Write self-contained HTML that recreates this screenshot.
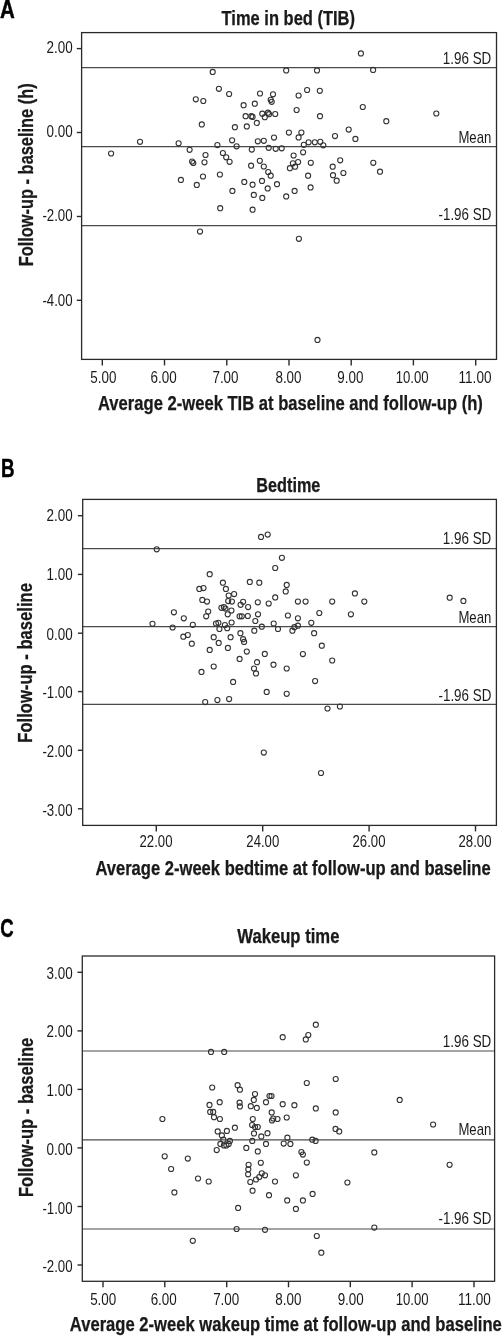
<!DOCTYPE html>
<html><head><meta charset="utf-8"><style>
html,body{margin:0;padding:0;background:#fff;overflow:hidden;width:502px;height:1336px;}
svg{display:block;font-family:"Liberation Sans", sans-serif;will-change:transform;}
</style></head><body>
<svg width="502" height="1336" viewBox="0 0 502 1336">
<rect width="502" height="1336" fill="#fff"/>
<line x1="81.6" y1="67.7" x2="496.5" y2="67.7" stroke="#4a4a4a" stroke-width="1.2"/>
<line x1="81.6" y1="146.6" x2="496.5" y2="146.6" stroke="#4a4a4a" stroke-width="1.2"/>
<line x1="81.6" y1="225.6" x2="496.5" y2="225.6" stroke="#4a4a4a" stroke-width="1.2"/>
<rect x="81.6" y="32.6" width="414.9" height="326.8" fill="none" stroke="#2a2a2a" stroke-width="1.3"/>
<line x1="76.8" y1="48.6" x2="81.6" y2="48.6" stroke="#2a2a2a" stroke-width="1.4"/>
<text x="72.6" y="53.1" font-size="17" text-anchor="end" textLength="26.1" lengthAdjust="spacingAndGlyphs" fill="#1a1a1a">2.00</text>
<line x1="76.8" y1="132.5" x2="81.6" y2="132.5" stroke="#2a2a2a" stroke-width="1.4"/>
<text x="72.6" y="137.1" font-size="17" text-anchor="end" textLength="26.1" lengthAdjust="spacingAndGlyphs" fill="#1a1a1a">0.00</text>
<line x1="76.8" y1="216.5" x2="81.6" y2="216.5" stroke="#2a2a2a" stroke-width="1.4"/>
<text x="72.6" y="221.1" font-size="17" text-anchor="end" textLength="30.2" lengthAdjust="spacingAndGlyphs" fill="#1a1a1a">-2.00</text>
<line x1="76.8" y1="300.3" x2="81.6" y2="300.3" stroke="#2a2a2a" stroke-width="1.4"/>
<text x="72.6" y="305.9" font-size="17" text-anchor="end" textLength="30.2" lengthAdjust="spacingAndGlyphs" fill="#1a1a1a">-4.00</text>
<line x1="102.3" y1="359.4" x2="102.3" y2="365.4" stroke="#2a2a2a" stroke-width="1.4"/>
<text x="103.3" y="382.6" font-size="17" text-anchor="middle" textLength="26.1" lengthAdjust="spacingAndGlyphs" fill="#1a1a1a">5.00</text>
<line x1="164.5" y1="359.4" x2="164.5" y2="365.4" stroke="#2a2a2a" stroke-width="1.4"/>
<text x="163.6" y="382.6" font-size="17" text-anchor="middle" textLength="26.1" lengthAdjust="spacingAndGlyphs" fill="#1a1a1a">6.00</text>
<line x1="226.8" y1="359.4" x2="226.8" y2="365.4" stroke="#2a2a2a" stroke-width="1.4"/>
<text x="225.5" y="382.6" font-size="17" text-anchor="middle" textLength="26.1" lengthAdjust="spacingAndGlyphs" fill="#1a1a1a">7.00</text>
<line x1="289.0" y1="359.4" x2="289.0" y2="365.4" stroke="#2a2a2a" stroke-width="1.4"/>
<text x="288.5" y="382.6" font-size="17" text-anchor="middle" textLength="26.1" lengthAdjust="spacingAndGlyphs" fill="#1a1a1a">8.00</text>
<line x1="351.2" y1="359.4" x2="351.2" y2="365.4" stroke="#2a2a2a" stroke-width="1.4"/>
<text x="350.3" y="382.6" font-size="17" text-anchor="middle" textLength="26.1" lengthAdjust="spacingAndGlyphs" fill="#1a1a1a">9.00</text>
<line x1="413.4" y1="359.4" x2="413.4" y2="365.4" stroke="#2a2a2a" stroke-width="1.4"/>
<text x="412.2" y="382.6" font-size="17" text-anchor="middle" textLength="32.9" lengthAdjust="spacingAndGlyphs" fill="#1a1a1a">10.00</text>
<line x1="475.7" y1="359.4" x2="475.7" y2="365.4" stroke="#2a2a2a" stroke-width="1.4"/>
<text x="475.0" y="382.6" font-size="17" text-anchor="middle" textLength="32.9" lengthAdjust="spacingAndGlyphs" fill="#1a1a1a">11.00</text>
<text x="491.3" y="64.1" font-size="17" text-anchor="end" textLength="48.5" lengthAdjust="spacingAndGlyphs" fill="#1a1a1a">1.96 SD</text>
<text x="491.3" y="142.6" font-size="17" text-anchor="end" textLength="32.9" lengthAdjust="spacingAndGlyphs" fill="#1a1a1a">Mean</text>
<text x="491.3" y="219.9" font-size="17" text-anchor="end" textLength="52.8" lengthAdjust="spacingAndGlyphs" fill="#1a1a1a">-1.96 SD</text>
<g fill="none" stroke="#333" stroke-width="1.1">
<circle cx="111.1" cy="153.5" r="2.55"/>
<circle cx="140.0" cy="141.8" r="2.55"/>
<circle cx="178.6" cy="143.3" r="2.55"/>
<circle cx="189.6" cy="149.8" r="2.55"/>
<circle cx="195.8" cy="99.3" r="2.55"/>
<circle cx="203.3" cy="101.0" r="2.55"/>
<circle cx="201.8" cy="124.4" r="2.55"/>
<circle cx="192.1" cy="161.5" r="2.55"/>
<circle cx="193.3" cy="163.0" r="2.55"/>
<circle cx="205.5" cy="155.0" r="2.55"/>
<circle cx="204.5" cy="162.3" r="2.55"/>
<circle cx="203.0" cy="176.5" r="2.55"/>
<circle cx="180.9" cy="179.9" r="2.55"/>
<circle cx="196.8" cy="184.9" r="2.55"/>
<circle cx="212.7" cy="71.9" r="2.55"/>
<circle cx="286.2" cy="70.4" r="2.55"/>
<circle cx="317.0" cy="70.4" r="2.55"/>
<circle cx="218.9" cy="88.8" r="2.55"/>
<circle cx="229.1" cy="94.0" r="2.55"/>
<circle cx="260.0" cy="93.5" r="2.55"/>
<circle cx="273.0" cy="94.3" r="2.55"/>
<circle cx="270.7" cy="99.8" r="2.55"/>
<circle cx="271.7" cy="101.8" r="2.55"/>
<circle cx="298.6" cy="95.5" r="2.55"/>
<circle cx="307.1" cy="90.0" r="2.55"/>
<circle cx="319.8" cy="90.8" r="2.55"/>
<circle cx="243.6" cy="105.2" r="2.55"/>
<circle cx="254.8" cy="103.7" r="2.55"/>
<circle cx="296.6" cy="110.0" r="2.55"/>
<circle cx="245.6" cy="116.2" r="2.55"/>
<circle cx="251.3" cy="116.2" r="2.55"/>
<circle cx="252.6" cy="116.9" r="2.55"/>
<circle cx="262.3" cy="113.7" r="2.55"/>
<circle cx="268.0" cy="112.7" r="2.55"/>
<circle cx="264.8" cy="117.2" r="2.55"/>
<circle cx="269.0" cy="114.2" r="2.55"/>
<circle cx="275.2" cy="114.0" r="2.55"/>
<circle cx="320.0" cy="116.2" r="2.55"/>
<circle cx="256.8" cy="122.9" r="2.55"/>
<circle cx="246.8" cy="126.4" r="2.55"/>
<circle cx="234.9" cy="127.2" r="2.55"/>
<circle cx="288.9" cy="132.6" r="2.55"/>
<circle cx="301.4" cy="132.6" r="2.55"/>
<circle cx="298.6" cy="137.4" r="2.55"/>
<circle cx="274.0" cy="137.6" r="2.55"/>
<circle cx="232.1" cy="140.3" r="2.55"/>
<circle cx="257.8" cy="141.3" r="2.55"/>
<circle cx="263.8" cy="140.8" r="2.55"/>
<circle cx="217.4" cy="145.1" r="2.55"/>
<circle cx="236.6" cy="146.3" r="2.55"/>
<circle cx="251.8" cy="149.6" r="2.55"/>
<circle cx="268.7" cy="147.8" r="2.55"/>
<circle cx="275.7" cy="148.8" r="2.55"/>
<circle cx="281.7" cy="148.3" r="2.55"/>
<circle cx="303.8" cy="144.8" r="2.55"/>
<circle cx="308.6" cy="142.3" r="2.55"/>
<circle cx="314.8" cy="142.3" r="2.55"/>
<circle cx="320.3" cy="141.8" r="2.55"/>
<circle cx="323.3" cy="145.3" r="2.55"/>
<circle cx="222.9" cy="153.0" r="2.55"/>
<circle cx="226.2" cy="157.3" r="2.55"/>
<circle cx="229.6" cy="161.8" r="2.55"/>
<circle cx="293.6" cy="155.5" r="2.55"/>
<circle cx="303.1" cy="152.3" r="2.55"/>
<circle cx="292.9" cy="163.3" r="2.55"/>
<circle cx="298.1" cy="162.0" r="2.55"/>
<circle cx="295.1" cy="166.7" r="2.55"/>
<circle cx="289.9" cy="168.2" r="2.55"/>
<circle cx="310.8" cy="162.8" r="2.55"/>
<circle cx="251.1" cy="165.7" r="2.55"/>
<circle cx="259.8" cy="160.8" r="2.55"/>
<circle cx="263.8" cy="166.5" r="2.55"/>
<circle cx="268.2" cy="172.0" r="2.55"/>
<circle cx="270.7" cy="175.7" r="2.55"/>
<circle cx="219.9" cy="174.5" r="2.55"/>
<circle cx="308.1" cy="175.7" r="2.55"/>
<circle cx="244.3" cy="181.9" r="2.55"/>
<circle cx="252.6" cy="184.7" r="2.55"/>
<circle cx="262.0" cy="180.9" r="2.55"/>
<circle cx="277.0" cy="184.2" r="2.55"/>
<circle cx="267.7" cy="188.4" r="2.55"/>
<circle cx="232.4" cy="190.9" r="2.55"/>
<circle cx="253.8" cy="194.9" r="2.55"/>
<circle cx="262.3" cy="197.9" r="2.55"/>
<circle cx="286.2" cy="196.4" r="2.55"/>
<circle cx="294.6" cy="190.9" r="2.55"/>
<circle cx="310.6" cy="187.4" r="2.55"/>
<circle cx="360.9" cy="53.4" r="2.55"/>
<circle cx="373.1" cy="69.9" r="2.55"/>
<circle cx="362.8" cy="107.0" r="2.55"/>
<circle cx="436.3" cy="113.5" r="2.55"/>
<circle cx="386.3" cy="121.2" r="2.55"/>
<circle cx="348.7" cy="129.6" r="2.55"/>
<circle cx="335.0" cy="136.1" r="2.55"/>
<circle cx="355.4" cy="138.9" r="2.55"/>
<circle cx="340.2" cy="160.3" r="2.55"/>
<circle cx="332.7" cy="166.7" r="2.55"/>
<circle cx="343.4" cy="173.0" r="2.55"/>
<circle cx="333.0" cy="175.2" r="2.55"/>
<circle cx="336.7" cy="180.7" r="2.55"/>
<circle cx="373.3" cy="162.8" r="2.55"/>
<circle cx="380.0" cy="171.7" r="2.55"/>
<circle cx="200.0" cy="231.6" r="2.55"/>
<circle cx="220.2" cy="208.2" r="2.55"/>
<circle cx="252.6" cy="209.7" r="2.55"/>
<circle cx="298.9" cy="238.8" r="2.55"/>
<circle cx="317.5" cy="339.9" r="2.55"/>
</g>
<text x="-0.1" y="17.7" font-size="25" font-weight="bold" textLength="14.8" lengthAdjust="spacingAndGlyphs" fill="#000" stroke="#000" stroke-width="0.45">A</text>
<text x="221.6" y="24.8" font-size="19.8" font-weight="bold" stroke="#111" stroke-width="0.25" textLength="133.4" lengthAdjust="spacingAndGlyphs" fill="#1a1a1a">Time in bed (TIB)</text>
<text x="98.0" y="409.9" font-size="19.6" font-weight="bold" stroke="#111" stroke-width="0.25" textLength="384.9" lengthAdjust="spacingAndGlyphs" fill="#1a1a1a">Average 2-week TIB at baseline and follow-up (h)</text>
<text x="32.6" y="266.3" font-size="19.8" font-weight="bold" stroke="#111" stroke-width="0.25" textLength="183.0" lengthAdjust="spacingAndGlyphs" transform="rotate(-90 32.6 266.3)" fill="#1a1a1a">Follow-up - baseline (h)</text>
<line x1="82.7" y1="548.7" x2="496.4" y2="548.7" stroke="#4a4a4a" stroke-width="1.2"/>
<line x1="82.7" y1="626.7" x2="496.4" y2="626.7" stroke="#4a4a4a" stroke-width="1.2"/>
<line x1="82.7" y1="704.4" x2="496.4" y2="704.4" stroke="#4a4a4a" stroke-width="1.2"/>
<rect x="82.7" y="499.4" width="413.7" height="326.0" fill="none" stroke="#2a2a2a" stroke-width="1.3"/>
<line x1="77.9" y1="515.7" x2="82.7" y2="515.7" stroke="#2a2a2a" stroke-width="1.4"/>
<text x="72.6" y="521.4" font-size="17" text-anchor="end" textLength="26.1" lengthAdjust="spacingAndGlyphs" fill="#1a1a1a">2.00</text>
<line x1="77.9" y1="574.4" x2="82.7" y2="574.4" stroke="#2a2a2a" stroke-width="1.4"/>
<text x="72.6" y="580.3" font-size="17" text-anchor="end" textLength="26.1" lengthAdjust="spacingAndGlyphs" fill="#1a1a1a">1.00</text>
<line x1="77.9" y1="633.2" x2="82.7" y2="633.2" stroke="#2a2a2a" stroke-width="1.4"/>
<text x="72.6" y="639.6" font-size="17" text-anchor="end" textLength="26.1" lengthAdjust="spacingAndGlyphs" fill="#1a1a1a">0.00</text>
<line x1="77.9" y1="691.6" x2="82.7" y2="691.6" stroke="#2a2a2a" stroke-width="1.4"/>
<text x="72.6" y="698.3" font-size="17" text-anchor="end" textLength="30.2" lengthAdjust="spacingAndGlyphs" fill="#1a1a1a">-1.00</text>
<line x1="77.9" y1="750.3" x2="82.7" y2="750.3" stroke="#2a2a2a" stroke-width="1.4"/>
<text x="72.6" y="757.1" font-size="17" text-anchor="end" textLength="30.2" lengthAdjust="spacingAndGlyphs" fill="#1a1a1a">-2.00</text>
<line x1="77.9" y1="808.8" x2="82.7" y2="808.8" stroke="#2a2a2a" stroke-width="1.4"/>
<text x="72.6" y="815.8" font-size="17" text-anchor="end" textLength="30.2" lengthAdjust="spacingAndGlyphs" fill="#1a1a1a">-3.00</text>
<line x1="156.3" y1="825.4" x2="156.3" y2="831.4" stroke="#2a2a2a" stroke-width="1.4"/>
<text x="156.0" y="846.7" font-size="17" text-anchor="middle" textLength="32.9" lengthAdjust="spacingAndGlyphs" fill="#1a1a1a">22.00</text>
<line x1="262.7" y1="825.4" x2="262.7" y2="831.4" stroke="#2a2a2a" stroke-width="1.4"/>
<text x="262.8" y="846.7" font-size="17" text-anchor="middle" textLength="32.9" lengthAdjust="spacingAndGlyphs" fill="#1a1a1a">24.00</text>
<line x1="369.1" y1="825.4" x2="369.1" y2="831.4" stroke="#2a2a2a" stroke-width="1.4"/>
<text x="369.0" y="846.7" font-size="17" text-anchor="middle" textLength="32.9" lengthAdjust="spacingAndGlyphs" fill="#1a1a1a">26.00</text>
<line x1="475.5" y1="825.4" x2="475.5" y2="831.4" stroke="#2a2a2a" stroke-width="1.4"/>
<text x="475.0" y="846.7" font-size="17" text-anchor="middle" textLength="32.9" lengthAdjust="spacingAndGlyphs" fill="#1a1a1a">28.00</text>
<text x="491.3" y="543.9" font-size="17" text-anchor="end" textLength="48.5" lengthAdjust="spacingAndGlyphs" fill="#1a1a1a">1.96 SD</text>
<text x="491.3" y="622.5" font-size="17" text-anchor="end" textLength="32.9" lengthAdjust="spacingAndGlyphs" fill="#1a1a1a">Mean</text>
<text x="491.3" y="700.5" font-size="17" text-anchor="end" textLength="52.8" lengthAdjust="spacingAndGlyphs" fill="#1a1a1a">-1.96 SD</text>
<g fill="none" stroke="#333" stroke-width="1.1">
<circle cx="156.7" cy="549.3" r="2.55"/>
<circle cx="199.3" cy="588.9" r="2.55"/>
<circle cx="203.5" cy="588.1" r="2.55"/>
<circle cx="202.3" cy="599.9" r="2.55"/>
<circle cx="173.9" cy="612.3" r="2.55"/>
<circle cx="183.8" cy="618.3" r="2.55"/>
<circle cx="152.5" cy="623.8" r="2.55"/>
<circle cx="172.6" cy="627.5" r="2.55"/>
<circle cx="192.8" cy="624.8" r="2.55"/>
<circle cx="183.3" cy="636.7" r="2.55"/>
<circle cx="187.8" cy="635.0" r="2.55"/>
<circle cx="191.8" cy="643.7" r="2.55"/>
<circle cx="261.0" cy="536.9" r="2.55"/>
<circle cx="267.7" cy="534.6" r="2.55"/>
<circle cx="281.9" cy="557.8" r="2.55"/>
<circle cx="275.2" cy="568.0" r="2.55"/>
<circle cx="209.7" cy="574.2" r="2.55"/>
<circle cx="222.9" cy="582.7" r="2.55"/>
<circle cx="249.8" cy="581.9" r="2.55"/>
<circle cx="259.3" cy="582.7" r="2.55"/>
<circle cx="286.7" cy="584.9" r="2.55"/>
<circle cx="285.7" cy="591.4" r="2.55"/>
<circle cx="225.9" cy="588.9" r="2.55"/>
<circle cx="228.7" cy="595.6" r="2.55"/>
<circle cx="234.1" cy="594.1" r="2.55"/>
<circle cx="207.0" cy="601.6" r="2.55"/>
<circle cx="228.2" cy="601.1" r="2.55"/>
<circle cx="231.9" cy="601.6" r="2.55"/>
<circle cx="243.1" cy="601.8" r="2.55"/>
<circle cx="240.6" cy="604.8" r="2.55"/>
<circle cx="248.1" cy="607.1" r="2.55"/>
<circle cx="257.8" cy="602.3" r="2.55"/>
<circle cx="268.7" cy="603.6" r="2.55"/>
<circle cx="275.2" cy="597.4" r="2.55"/>
<circle cx="297.9" cy="601.6" r="2.55"/>
<circle cx="305.6" cy="601.6" r="2.55"/>
<circle cx="221.4" cy="607.8" r="2.55"/>
<circle cx="223.9" cy="607.1" r="2.55"/>
<circle cx="225.4" cy="608.6" r="2.55"/>
<circle cx="231.4" cy="610.6" r="2.55"/>
<circle cx="208.2" cy="611.6" r="2.55"/>
<circle cx="206.2" cy="616.3" r="2.55"/>
<circle cx="227.7" cy="614.3" r="2.55"/>
<circle cx="239.6" cy="616.3" r="2.55"/>
<circle cx="241.8" cy="616.3" r="2.55"/>
<circle cx="247.8" cy="616.0" r="2.55"/>
<circle cx="258.0" cy="614.3" r="2.55"/>
<circle cx="255.3" cy="621.0" r="2.55"/>
<circle cx="287.9" cy="615.5" r="2.55"/>
<circle cx="297.9" cy="618.3" r="2.55"/>
<circle cx="319.3" cy="613.0" r="2.55"/>
<circle cx="216.0" cy="623.5" r="2.55"/>
<circle cx="218.4" cy="622.8" r="2.55"/>
<circle cx="219.4" cy="629.0" r="2.55"/>
<circle cx="224.9" cy="625.0" r="2.55"/>
<circle cx="227.2" cy="628.2" r="2.55"/>
<circle cx="231.6" cy="622.5" r="2.55"/>
<circle cx="273.7" cy="623.5" r="2.55"/>
<circle cx="261.8" cy="626.7" r="2.55"/>
<circle cx="278.0" cy="629.0" r="2.55"/>
<circle cx="254.3" cy="630.7" r="2.55"/>
<circle cx="292.4" cy="630.7" r="2.55"/>
<circle cx="294.4" cy="627.2" r="2.55"/>
<circle cx="297.9" cy="625.7" r="2.55"/>
<circle cx="311.3" cy="622.8" r="2.55"/>
<circle cx="314.1" cy="633.2" r="2.55"/>
<circle cx="240.4" cy="633.2" r="2.55"/>
<circle cx="213.7" cy="637.2" r="2.55"/>
<circle cx="230.6" cy="637.2" r="2.55"/>
<circle cx="243.1" cy="639.2" r="2.55"/>
<circle cx="244.1" cy="641.9" r="2.55"/>
<circle cx="218.7" cy="642.9" r="2.55"/>
<circle cx="321.8" cy="645.7" r="2.55"/>
<circle cx="209.7" cy="649.9" r="2.55"/>
<circle cx="227.9" cy="647.9" r="2.55"/>
<circle cx="246.8" cy="651.6" r="2.55"/>
<circle cx="264.8" cy="653.9" r="2.55"/>
<circle cx="302.9" cy="654.1" r="2.55"/>
<circle cx="239.6" cy="658.9" r="2.55"/>
<circle cx="332.2" cy="601.6" r="2.55"/>
<circle cx="354.9" cy="593.4" r="2.55"/>
<circle cx="364.3" cy="601.6" r="2.55"/>
<circle cx="350.9" cy="614.3" r="2.55"/>
<circle cx="449.7" cy="597.7" r="2.55"/>
<circle cx="463.4" cy="600.9" r="2.55"/>
<circle cx="201.5" cy="671.9" r="2.55"/>
<circle cx="213.7" cy="666.5" r="2.55"/>
<circle cx="257.0" cy="662.2" r="2.55"/>
<circle cx="254.0" cy="668.5" r="2.55"/>
<circle cx="256.0" cy="673.4" r="2.55"/>
<circle cx="273.5" cy="664.7" r="2.55"/>
<circle cx="286.7" cy="668.5" r="2.55"/>
<circle cx="233.1" cy="681.9" r="2.55"/>
<circle cx="315.1" cy="681.1" r="2.55"/>
<circle cx="266.7" cy="691.9" r="2.55"/>
<circle cx="286.7" cy="693.8" r="2.55"/>
<circle cx="205.2" cy="702.1" r="2.55"/>
<circle cx="217.4" cy="700.1" r="2.55"/>
<circle cx="229.1" cy="699.1" r="2.55"/>
<circle cx="263.8" cy="752.6" r="2.55"/>
<circle cx="321.0" cy="773.0" r="2.55"/>
<circle cx="332.2" cy="660.5" r="2.55"/>
<circle cx="327.5" cy="708.5" r="2.55"/>
<circle cx="339.9" cy="706.5" r="2.55"/>
</g>
<text x="0.9" y="476.6" font-size="25" font-weight="bold" textLength="13.6" lengthAdjust="spacingAndGlyphs" fill="#000" stroke="#000" stroke-width="0.45">B</text>
<text x="256.3" y="492.3" font-size="19.8" font-weight="bold" stroke="#111" stroke-width="0.25" textLength="64.1" lengthAdjust="spacingAndGlyphs" fill="#1a1a1a">Bedtime</text>
<text x="95.4" y="874.7" font-size="19.6" font-weight="bold" stroke="#111" stroke-width="0.25" textLength="395.3" lengthAdjust="spacingAndGlyphs" fill="#1a1a1a">Average 2-week bedtime at follow-up and baseline</text>
<text x="32.4" y="742.7" font-size="19.8" font-weight="bold" stroke="#111" stroke-width="0.25" textLength="159.6" lengthAdjust="spacingAndGlyphs" transform="rotate(-90 32.4 742.7)" fill="#1a1a1a">Follow-up - baseline</text>
<line x1="82.3" y1="1051.0" x2="494.6" y2="1051.0" stroke="#4a4a4a" stroke-width="1.2"/>
<line x1="82.3" y1="1139.8" x2="494.6" y2="1139.8" stroke="#4a4a4a" stroke-width="1.2"/>
<line x1="82.3" y1="1229.0" x2="494.6" y2="1229.0" stroke="#4a4a4a" stroke-width="1.2"/>
<rect x="82.3" y="956.0" width="412.3" height="325.3" fill="none" stroke="#2a2a2a" stroke-width="1.3"/>
<line x1="77.5" y1="972.3" x2="82.3" y2="972.3" stroke="#2a2a2a" stroke-width="1.4"/>
<text x="72.6" y="978.9" font-size="17" text-anchor="end" textLength="26.1" lengthAdjust="spacingAndGlyphs" fill="#1a1a1a">3.00</text>
<line x1="77.5" y1="1030.9" x2="82.3" y2="1030.9" stroke="#2a2a2a" stroke-width="1.4"/>
<text x="72.6" y="1037.4" font-size="17" text-anchor="end" textLength="26.1" lengthAdjust="spacingAndGlyphs" fill="#1a1a1a">2.00</text>
<line x1="77.5" y1="1089.4" x2="82.3" y2="1089.4" stroke="#2a2a2a" stroke-width="1.4"/>
<text x="72.6" y="1096.3" font-size="17" text-anchor="end" textLength="26.1" lengthAdjust="spacingAndGlyphs" fill="#1a1a1a">1.00</text>
<line x1="77.5" y1="1147.9" x2="82.3" y2="1147.9" stroke="#2a2a2a" stroke-width="1.4"/>
<text x="72.6" y="1155.0" font-size="17" text-anchor="end" textLength="26.1" lengthAdjust="spacingAndGlyphs" fill="#1a1a1a">0.00</text>
<line x1="77.5" y1="1206.5" x2="82.3" y2="1206.5" stroke="#2a2a2a" stroke-width="1.4"/>
<text x="72.6" y="1213.9" font-size="17" text-anchor="end" textLength="30.2" lengthAdjust="spacingAndGlyphs" fill="#1a1a1a">-1.00</text>
<line x1="77.5" y1="1265.0" x2="82.3" y2="1265.0" stroke="#2a2a2a" stroke-width="1.4"/>
<text x="72.6" y="1272.2" font-size="17" text-anchor="end" textLength="30.2" lengthAdjust="spacingAndGlyphs" fill="#1a1a1a">-2.00</text>
<line x1="103.0" y1="1281.3" x2="103.0" y2="1287.3" stroke="#2a2a2a" stroke-width="1.4"/>
<text x="103.2" y="1305.0" font-size="17" text-anchor="middle" textLength="26.1" lengthAdjust="spacingAndGlyphs" fill="#1a1a1a">5.00</text>
<line x1="164.8" y1="1281.3" x2="164.8" y2="1287.3" stroke="#2a2a2a" stroke-width="1.4"/>
<text x="163.7" y="1305.0" font-size="17" text-anchor="middle" textLength="26.1" lengthAdjust="spacingAndGlyphs" fill="#1a1a1a">6.00</text>
<line x1="226.7" y1="1281.3" x2="226.7" y2="1287.3" stroke="#2a2a2a" stroke-width="1.4"/>
<text x="226.2" y="1305.0" font-size="17" text-anchor="middle" textLength="26.1" lengthAdjust="spacingAndGlyphs" fill="#1a1a1a">7.00</text>
<line x1="288.5" y1="1281.3" x2="288.5" y2="1287.3" stroke="#2a2a2a" stroke-width="1.4"/>
<text x="288.4" y="1305.0" font-size="17" text-anchor="middle" textLength="26.1" lengthAdjust="spacingAndGlyphs" fill="#1a1a1a">8.00</text>
<line x1="350.3" y1="1281.3" x2="350.3" y2="1287.3" stroke="#2a2a2a" stroke-width="1.4"/>
<text x="350.7" y="1305.0" font-size="17" text-anchor="middle" textLength="26.1" lengthAdjust="spacingAndGlyphs" fill="#1a1a1a">9.00</text>
<line x1="412.1" y1="1281.3" x2="412.1" y2="1287.3" stroke="#2a2a2a" stroke-width="1.4"/>
<text x="412.1" y="1305.0" font-size="17" text-anchor="middle" textLength="32.9" lengthAdjust="spacingAndGlyphs" fill="#1a1a1a">10.00</text>
<line x1="474.0" y1="1281.3" x2="474.0" y2="1287.3" stroke="#2a2a2a" stroke-width="1.4"/>
<text x="474.4" y="1305.0" font-size="17" text-anchor="middle" textLength="32.9" lengthAdjust="spacingAndGlyphs" fill="#1a1a1a">11.00</text>
<text x="491.3" y="1046.8" font-size="17" text-anchor="end" textLength="48.5" lengthAdjust="spacingAndGlyphs" fill="#1a1a1a">1.96 SD</text>
<text x="491.3" y="1135.3" font-size="17" text-anchor="end" textLength="32.9" lengthAdjust="spacingAndGlyphs" fill="#1a1a1a">Mean</text>
<text x="491.3" y="1224.2" font-size="17" text-anchor="end" textLength="52.8" lengthAdjust="spacingAndGlyphs" fill="#1a1a1a">-1.96 SD</text>
<g fill="none" stroke="#333" stroke-width="1.1">
<circle cx="315.8" cy="1024.7" r="2.55"/>
<circle cx="282.7" cy="1037.2" r="2.55"/>
<circle cx="308.3" cy="1035.0" r="2.55"/>
<circle cx="305.8" cy="1039.4" r="2.55"/>
<circle cx="211.0" cy="1051.9" r="2.55"/>
<circle cx="224.2" cy="1051.9" r="2.55"/>
<circle cx="212.2" cy="1087.5" r="2.55"/>
<circle cx="237.6" cy="1085.2" r="2.55"/>
<circle cx="239.9" cy="1089.7" r="2.55"/>
<circle cx="255.0" cy="1094.0" r="2.55"/>
<circle cx="253.8" cy="1099.9" r="2.55"/>
<circle cx="269.5" cy="1096.0" r="2.55"/>
<circle cx="271.5" cy="1096.0" r="2.55"/>
<circle cx="266.0" cy="1102.2" r="2.55"/>
<circle cx="306.8" cy="1083.0" r="2.55"/>
<circle cx="209.5" cy="1104.9" r="2.55"/>
<circle cx="219.7" cy="1102.2" r="2.55"/>
<circle cx="239.6" cy="1102.7" r="2.55"/>
<circle cx="239.9" cy="1106.4" r="2.55"/>
<circle cx="250.8" cy="1106.2" r="2.55"/>
<circle cx="256.8" cy="1107.9" r="2.55"/>
<circle cx="282.7" cy="1104.2" r="2.55"/>
<circle cx="294.4" cy="1105.2" r="2.55"/>
<circle cx="315.8" cy="1108.4" r="2.55"/>
<circle cx="271.7" cy="1112.4" r="2.55"/>
<circle cx="210.2" cy="1111.9" r="2.55"/>
<circle cx="213.2" cy="1111.9" r="2.55"/>
<circle cx="335.7" cy="1079.0" r="2.55"/>
<circle cx="399.7" cy="1099.9" r="2.55"/>
<circle cx="335.7" cy="1112.4" r="2.55"/>
<circle cx="162.4" cy="1119.0" r="2.55"/>
<circle cx="164.7" cy="1156.3" r="2.55"/>
<circle cx="187.8" cy="1158.6" r="2.55"/>
<circle cx="171.1" cy="1169.0" r="2.55"/>
<circle cx="198.0" cy="1178.5" r="2.55"/>
<circle cx="174.4" cy="1192.4" r="2.55"/>
<circle cx="192.8" cy="1240.8" r="2.55"/>
<circle cx="214.0" cy="1117.2" r="2.55"/>
<circle cx="219.9" cy="1119.0" r="2.55"/>
<circle cx="252.8" cy="1119.0" r="2.55"/>
<circle cx="272.0" cy="1120.5" r="2.55"/>
<circle cx="273.2" cy="1118.5" r="2.55"/>
<circle cx="277.5" cy="1119.0" r="2.55"/>
<circle cx="286.7" cy="1117.5" r="2.55"/>
<circle cx="217.7" cy="1131.4" r="2.55"/>
<circle cx="226.9" cy="1130.9" r="2.55"/>
<circle cx="234.9" cy="1127.7" r="2.55"/>
<circle cx="221.9" cy="1135.4" r="2.55"/>
<circle cx="223.4" cy="1139.7" r="2.55"/>
<circle cx="229.9" cy="1140.9" r="2.55"/>
<circle cx="220.4" cy="1143.9" r="2.55"/>
<circle cx="223.9" cy="1145.4" r="2.55"/>
<circle cx="226.4" cy="1145.4" r="2.55"/>
<circle cx="228.7" cy="1143.9" r="2.55"/>
<circle cx="216.7" cy="1150.1" r="2.55"/>
<circle cx="252.1" cy="1125.0" r="2.55"/>
<circle cx="255.0" cy="1127.0" r="2.55"/>
<circle cx="257.8" cy="1127.0" r="2.55"/>
<circle cx="254.0" cy="1133.4" r="2.55"/>
<circle cx="252.3" cy="1140.9" r="2.55"/>
<circle cx="261.3" cy="1136.4" r="2.55"/>
<circle cx="267.5" cy="1133.2" r="2.55"/>
<circle cx="266.0" cy="1143.9" r="2.55"/>
<circle cx="246.3" cy="1147.9" r="2.55"/>
<circle cx="257.8" cy="1151.4" r="2.55"/>
<circle cx="287.4" cy="1137.7" r="2.55"/>
<circle cx="283.7" cy="1143.6" r="2.55"/>
<circle cx="290.4" cy="1143.9" r="2.55"/>
<circle cx="312.3" cy="1139.7" r="2.55"/>
<circle cx="315.6" cy="1140.9" r="2.55"/>
<circle cx="301.4" cy="1152.1" r="2.55"/>
<circle cx="302.9" cy="1154.6" r="2.55"/>
<circle cx="306.8" cy="1162.6" r="2.55"/>
<circle cx="260.8" cy="1162.8" r="2.55"/>
<circle cx="248.6" cy="1164.8" r="2.55"/>
<circle cx="248.3" cy="1169.3" r="2.55"/>
<circle cx="248.1" cy="1174.3" r="2.55"/>
<circle cx="261.8" cy="1173.3" r="2.55"/>
<circle cx="265.0" cy="1175.3" r="2.55"/>
<circle cx="259.3" cy="1177.0" r="2.55"/>
<circle cx="256.0" cy="1179.5" r="2.55"/>
<circle cx="250.3" cy="1182.0" r="2.55"/>
<circle cx="275.0" cy="1181.5" r="2.55"/>
<circle cx="295.9" cy="1175.3" r="2.55"/>
<circle cx="208.7" cy="1181.5" r="2.55"/>
<circle cx="252.6" cy="1190.7" r="2.55"/>
<circle cx="269.0" cy="1195.2" r="2.55"/>
<circle cx="287.2" cy="1200.4" r="2.55"/>
<circle cx="295.9" cy="1208.9" r="2.55"/>
<circle cx="302.9" cy="1200.4" r="2.55"/>
<circle cx="312.6" cy="1193.9" r="2.55"/>
<circle cx="238.1" cy="1207.9" r="2.55"/>
<circle cx="236.6" cy="1229.0" r="2.55"/>
<circle cx="265.0" cy="1229.8" r="2.55"/>
<circle cx="316.8" cy="1236.0" r="2.55"/>
<circle cx="321.3" cy="1252.7" r="2.55"/>
<circle cx="335.5" cy="1128.9" r="2.55"/>
<circle cx="339.2" cy="1131.4" r="2.55"/>
<circle cx="433.1" cy="1124.5" r="2.55"/>
<circle cx="374.3" cy="1152.4" r="2.55"/>
<circle cx="347.4" cy="1182.5" r="2.55"/>
<circle cx="374.3" cy="1227.6" r="2.55"/>
<circle cx="449.6" cy="1164.8" r="2.55"/>
</g>
<text x="0.3" y="936.6" font-size="25" font-weight="bold" textLength="13.4" lengthAdjust="spacingAndGlyphs" fill="#000" stroke="#000" stroke-width="0.45">C</text>
<text x="237.3" y="943.2" font-size="19.8" font-weight="bold" stroke="#111" stroke-width="0.25" textLength="102.1" lengthAdjust="spacingAndGlyphs" fill="#1a1a1a">Wakeup time</text>
<text x="69.8" y="1331.4" font-size="19.6" font-weight="bold" stroke="#111" stroke-width="0.25" textLength="432.0" lengthAdjust="spacingAndGlyphs" fill="#1a1a1a">Average 2-week wakeup time at follow-up and baseline</text>
<text x="32.5" y="1197.0" font-size="19.8" font-weight="bold" stroke="#111" stroke-width="0.25" textLength="159.3" lengthAdjust="spacingAndGlyphs" transform="rotate(-90 32.5 1197.0)" fill="#1a1a1a">Follow-up - baseline</text>
</svg>
</body></html>
